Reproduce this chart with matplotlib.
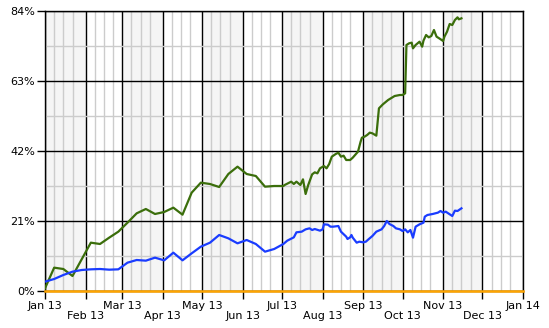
import matplotlib
matplotlib.use("Agg")
import matplotlib.pyplot as plt
import pandas as pd

# weekly points Jan - early Jul
weekly_dates = [
    "2013-01-01", "2013-01-08", "2013-01-15", "2013-01-22", "2013-01-29",
    "2013-02-05", "2013-02-12", "2013-02-19", "2013-02-26",
    "2013-03-05", "2013-03-12", "2013-03-19", "2013-03-26",
    "2013-04-02", "2013-04-09", "2013-04-16", "2013-04-23", "2013-04-30",
    "2013-05-07", "2013-05-14", "2013-05-21", "2013-05-28",
    "2013-06-04", "2013-06-11", "2013-06-18", "2013-06-25", "2013-07-02",
]
green_weekly = [0.8, 7.0, 6.6, 4.5, 9.5, 14.5, 14.1, 16.0, 17.8, 20.5, 23.3, 24.6, 23.1,
                23.7, 25.0, 22.9, 29.5, 32.5, 32.1, 31.2, 35.1, 37.3, 35.1, 34.5, 31.3, 31.5, 31.5]
blue_weekly = [2.8, 3.6, 4.8, 5.8, 6.3, 6.5, 6.6, 6.4, 6.5, 8.5, 9.3, 9.1, 10.0,
               9.2, 11.5, 9.2, 11.3, 13.3, 14.5, 16.8, 15.8, 14.3, 15.3, 14.1, 11.8, 12.6, 14.1]

# denser points from July on
green_late_dates = [
    "07-03", "07-08", "07-10", "07-12", "07-15", "07-17", "07-19", "07-21", "07-24", "07-26", "07-28", "07-30",
    "08-02", "08-04", "08-06", "08-08", "08-11", "08-13", "08-15", "08-17", "08-19", "08-22", "08-24", "08-28",
    "08-30", "08-31",
    "09-02", "09-04", "09-06", "09-08", "09-11", "09-13", "09-16", "09-20", "09-25", "09-29",
    "10-01", "10-03", "10-04", "10-06", "10-08", "10-09", "10-11", "10-14", "10-16", "10-17", "10-19", "10-21",
    "10-23", "10-25", "10-27", "10-29",
    "11-01", "11-02", "11-04", "11-06", "11-08", "11-10", "11-12", "11-13", "11-15",
]
green_late = [31.8, 32.8, 32.1, 32.8, 31.8, 33.5, 29.1, 31.8, 35.0, 35.6, 35.3, 36.8,
              37.5, 36.8, 38.1, 40.3, 41.1, 41.5, 40.3, 40.6, 39.3, 39.3, 40.0, 41.8, 44.8, 46.0,
              46.3, 46.8, 47.5, 47.3, 46.6, 54.8, 56.0, 57.3, 58.5, 58.8,
              58.8, 59.3, 73.8, 74.3, 74.5, 72.8, 73.8, 74.8, 73.3, 75.1, 76.8, 76.1, 76.5, 78.3, 76.3, 75.8,
              75.0, 76.3, 77.8, 80.1, 79.8, 81.3, 82.1, 81.5, 81.8]

blue_late_dates = [
    "07-05", "07-10", "07-12", "07-16", "07-19", "07-22", "07-24", "07-26", "07-30",
    "08-01", "08-02", "08-05", "08-07", "08-09", "08-13", "08-15", "08-19", "08-20", "08-22", "08-23", "08-24",
    "08-27", "08-29",
    "09-01", "09-03", "09-05", "09-08", "09-11", "09-15", "09-17", "09-19", "09-21", "09-24", "09-26", "09-29",
    "10-01", "10-03", "10-05", "10-07", "10-09", "10-11", "10-14", "10-17", "10-18", "10-20", "10-24", "10-28",
    "10-30",
    "11-01", "11-03", "11-08", "11-10", "11-12", "11-15",
]
blue_late = [15.1, 16.1, 17.6, 17.8, 18.5, 18.8, 18.3, 18.6, 18.1,
             18.5, 20.0, 19.9, 19.3, 19.3, 19.5, 17.8, 16.3, 15.6, 16.1, 16.8, 16.0, 14.5, 14.8,
             14.6, 14.8, 15.5, 16.5, 17.8, 18.5, 19.5, 21.0, 20.1, 19.5, 18.8, 18.5,
             18.0, 18.5, 17.6, 18.3, 16.0, 19.3, 20.0, 20.5, 22.3, 22.8, 23.1, 23.5, 24.0,
             23.5, 23.8, 22.5, 24.1, 24.0, 24.8]

month_labels = ["Jan 13", "Feb 13", "Mar 13", "Apr 13", "May 13", "Jun 13", "Jul 13",
                "Aug 13", "Sep 13", "Oct 13", "Nov 13", "Dec 13", "Jan 14"]
y_ticks = [0, 21, 42, 63, 84]
y_labels = ["0%", "21%", "42%", "63%", "84%"]

green_x = pd.to_datetime(weekly_dates + ["2013-" + d for d in green_late_dates])
green_y = green_weekly + green_late
blue_x = pd.to_datetime(weekly_dates + ["2013-" + d for d in blue_late_dates])
blue_y = blue_weekly + blue_late

months = pd.date_range("2013-01-01", "2014-01-01", freq="MS")
weeks = [m + pd.Timedelta(days=k) for m in months[:-1] for k in (7, 14, 21)]

plt.rcParams['font.family'] = ['DejaVu Sans']
fig = plt.figure(figsize=(5.49, 3.28), dpi=100)
ax = fig.add_axes([45 / 549, 37 / 328, 478 / 549, 280 / 328])

# alternate month shading
for i in range(0, 12, 2):
    ax.axvspan(months[i], months[i + 1], color="#f5f5f5", zorder=0, lw=0)

ax.set_xlim(months[0], months[-1])
ax.set_ylim(0, 84)

ax.set_xticks(months)
ax.set_xticks(weeks, minor=True)
ax.set_xticklabels([lab if i % 2 == 0 else "\n" + lab for i, lab in enumerate(month_labels)],
                   linespacing=1.0)
ax.set_yticks(y_ticks)
ax.set_yticks([10.5, 31.5, 52.5, 73.5], minor=True)
ax.set_yticklabels(y_labels)

ax.grid(which="major", color="black", lw=1, zorder=0.6)
ax.grid(which="minor", color="#cccccc", lw=1, zorder=0.5)
ax.tick_params(which="major", length=6, width=1, pad=1, labelsize=8, colors="black")
ax.tick_params(which="minor", length=0)
for s in ax.spines.values():
    s.set_color("black")
    s.set_linewidth(1)

ax.axhline(0, color="#ffa500", lw=1.8, zorder=3, clip_on=False)
ax.plot(green_x, green_y, color="#3b6e0b", lw=1.6, zorder=4)
ax.plot(blue_x, blue_y, color="#1a3cff", lw=1.6, zorder=4)

fig.savefig("out.png", dpi=100)
